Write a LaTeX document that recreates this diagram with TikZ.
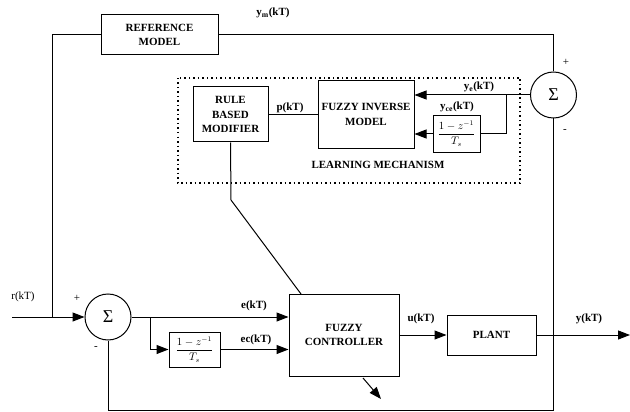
\documentclass[tikz,border=0pt]{standalone}
\usepackage{fontspec}
\setmainfont{Liberation Serif}
\usetikzlibrary{arrows.meta}
\tikzset{
  blk/.style={draw, line width=1pt, fill=white, align=center, inner sep=1pt,
    font=\fontsize{11}{14.5}\selectfont\bfseries},
  fblk/.style={draw, line width=1pt, fill=white, inner sep=0pt,
    font=\fontsize{10.5}{11}\selectfont},
  sumc/.style={draw, circle, line width=1pt, minimum size=46pt, inner sep=0pt,
    font=\fontsize{18}{18}\selectfont},
  wire/.style={line width=1pt},
  arr/.style={line width=1pt, -{Triangle[length=12pt,width=9pt]}},
  lbl/.style={font=\fontsize{11}{12}\selectfont\bfseries, inner sep=0pt},
  sgn/.style={font=\fontsize{11}{12}\selectfont, inner sep=0pt}
}
\newcommand{\dfrac}{$\displaystyle\frac{1-z^{-1}}{T_s}$}
\begin{document}
\begin{tikzpicture}[x=1pt,y=-1pt]
\useasboundingbox (0,0) rectangle (630,412);
% learning mechanism frame
\draw[line width=1.3pt, dash pattern=on 1.5pt off 3pt] (178,78) rectangle (520,183);
% blocks
\node[blk, minimum width=117pt, minimum height=40pt] (ref) at (159.5,35) {REFERENCE\\MODEL};
\node[blk, minimum width=75pt, minimum height=55pt] (rbm) at (230.5,114.5) {RULE\\BASED\\MODIFIER};
\node[blk, minimum width=96pt, minimum height=67pt] (fim) at (366,114.5) {FUZZY INVERSE\\MODEL};
\node[fblk, minimum width=47pt, minimum height=36pt] (d1) at (456.5,134) {\dfrac};
\node[sumc] (sumt) at (553.5,95) {Σ};
\node[sumc] (sumb) at (108,317) {Σ};
\node[fblk, minimum width=51pt, minimum height=35pt] (d2) at (194.5,349.5) {\dfrac};
\node[blk, minimum width=110pt, minimum height=82pt] (ctrl) at (344,335) {FUZZY\\CONTROLLER};
\node[blk, minimum width=89pt, minimum height=40pt] (plant) at (491.5,335) {PLANT};
% coordinates
\coordinate (rin) at (12,317);
\coordinate (yout) at (630,335);
\coordinate (jref) at (52,317);
\coordinate (jd1) at (506,95);
\coordinate (jd2) at (150,317);
\coordinate (bend) at (231,200);
\coordinate (cin) at (301,294);
\coordinate (aout1) at (363,378);
\coordinate (aout2) at (381,399);
% wires
\draw[arr] (rin) -- (sumb.west);
\draw[wire] (jref) -- (52,35) -- (ref.west);
\draw[wire] (ref.east) -- (553.5,35) -- (sumt.north);
\draw[arr] (sumt.west) -- (sumt.west -| fim.east);
\draw[wire] (jd1) |- (d1.east);
\draw[arr] (d1.west) -- (d1.west -| fim.east);
\draw[wire] (rbm.east) -- (rbm.east -| fim.west);
\draw[wire] (rbm.south) -- (bend) -- (cin);
\draw[arr] (sumb.east) -- (sumb.east -| ctrl.west);
\draw[arr] (jd2) |- (d2.west);
\draw[arr] (d2.east) -- (d2.east -| ctrl.west);
\draw[arr] (ctrl.east |- plant.west) -- (plant.west);
\draw[arr] (plant.east) -- (yout);
\draw[wire] (sumt.south) -- (553.5,410) -- (108,410) -- (sumb.south);
\draw[arr] (aout1) -- (aout2);
% labels
\node[lbl] (lym) at (273,13) {y\textsubscript{m}(kT)};
\node[lbl] (lp) at (290,108) {p(kT)};
\node[lbl] (lye) at (479,87) {y\textsubscript{e}(kT)};
\node[lbl] (lyce) at (457,107) {y\textsubscript{ce}(kT)};
\node[lbl] (llm) at (378,165) {LEARNING MECHANISM};
\node[sgn] (lr) at (23,297) {r(kT)};
\node[lbl] (le) at (254,306) {e(kT)};
\node[lbl] (lec) at (256,340) {ec(kT)};
\node[lbl] (lu) at (421,319) {u(kT)};
\node[lbl] (ly) at (589,319) {y(kT)};
\node[sgn] (p1) at (77,298) {+};
\node[sgn] (m1) at (96,348) {-};
\node[sgn] (p2) at (566,62) {+};
\node[sgn] (m2) at (565,131) {-};
\end{tikzpicture}
\end{document}
